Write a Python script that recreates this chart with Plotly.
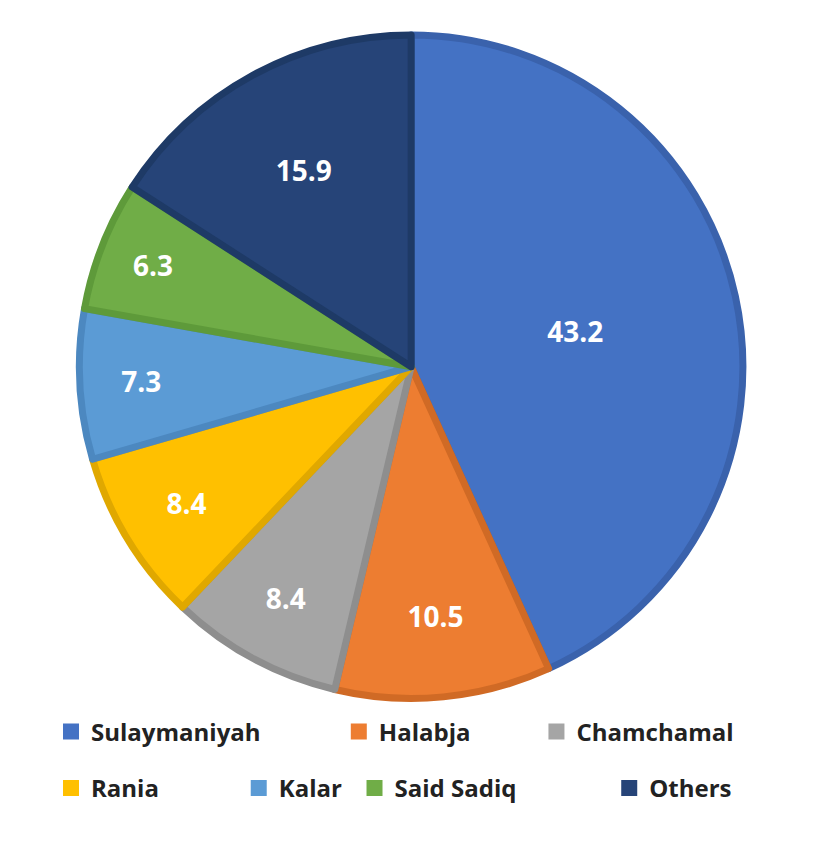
import plotly.graph_objects as go

regions = ["Sulaymaniyah", "Halabja", "Chamchamal", "Rania", "Kalar", "Said Sadiq", "Others"]
shares = [43.2, 10.5, 8.4, 8.4, 7.3, 6.3, 15.9]
fill_colors = ["#4472C4", "#ED7D31", "#A5A5A5", "#FFC000", "#5B9BD5", "#70AD47", "#264478"]
edge_colors = ["#3A62AC", "#D06A25", "#8E8E8E", "#E0A800", "#4C88C0", "#5E9A3A", "#1E3A66"]

fig = go.Figure(go.Pie(
    labels=regions,
    values=shares,
    sort=False,
    direction="clockwise",
    rotation=0,
    text=[f"{v:.1f}" for v in shares],
    textinfo="text",
    textposition="inside",
    insidetextorientation="horizontal",
    textfont=dict(family="Open Sans", size=28, color="white", weight="bold"),
    marker=dict(colors=fill_colors, line=dict(color=edge_colors, width=7)),
    domain=dict(x=[0.085, 0.89], y=[0.18, 0.968]),
    hoverinfo="label+value",
    showlegend=False,
))

# one legend per entry so the two rows sit like the original
legend_pos = [(0.052, 0.167), (0.400, 0.167), (0.639, 0.167),
              (0.052, 0.100), (0.279, 0.100), (0.419, 0.100), (0.727, 0.100)]
legend_font = dict(family="Open Sans", size=24, color="#222", weight="bold")
layout_legends = {}
for i, (name, col) in enumerate(zip(regions, fill_colors)):
    key = "legend" if i == 0 else f"legend{i + 1}"
    fig.add_trace(go.Scatter(
        x=[None], y=[None], mode="markers", name=name,
        marker=dict(symbol="square", size=18, color=col),
        legend=key,
    ))
    lx, ly = legend_pos[i]
    layout_legends[key] = dict(orientation="h", x=lx, y=ly, xanchor="left", yanchor="top",
                               font=legend_font, itemwidth=30, bgcolor="rgba(0,0,0,0)")

fig.update_layout(
    width=827, height=842,
    margin=dict(l=0, r=0, t=0, b=0),
    paper_bgcolor="white",
    plot_bgcolor="white",
    xaxis=dict(visible=False),
    yaxis=dict(visible=False),
    **layout_legends,
)

fig.write_html("out.html")
